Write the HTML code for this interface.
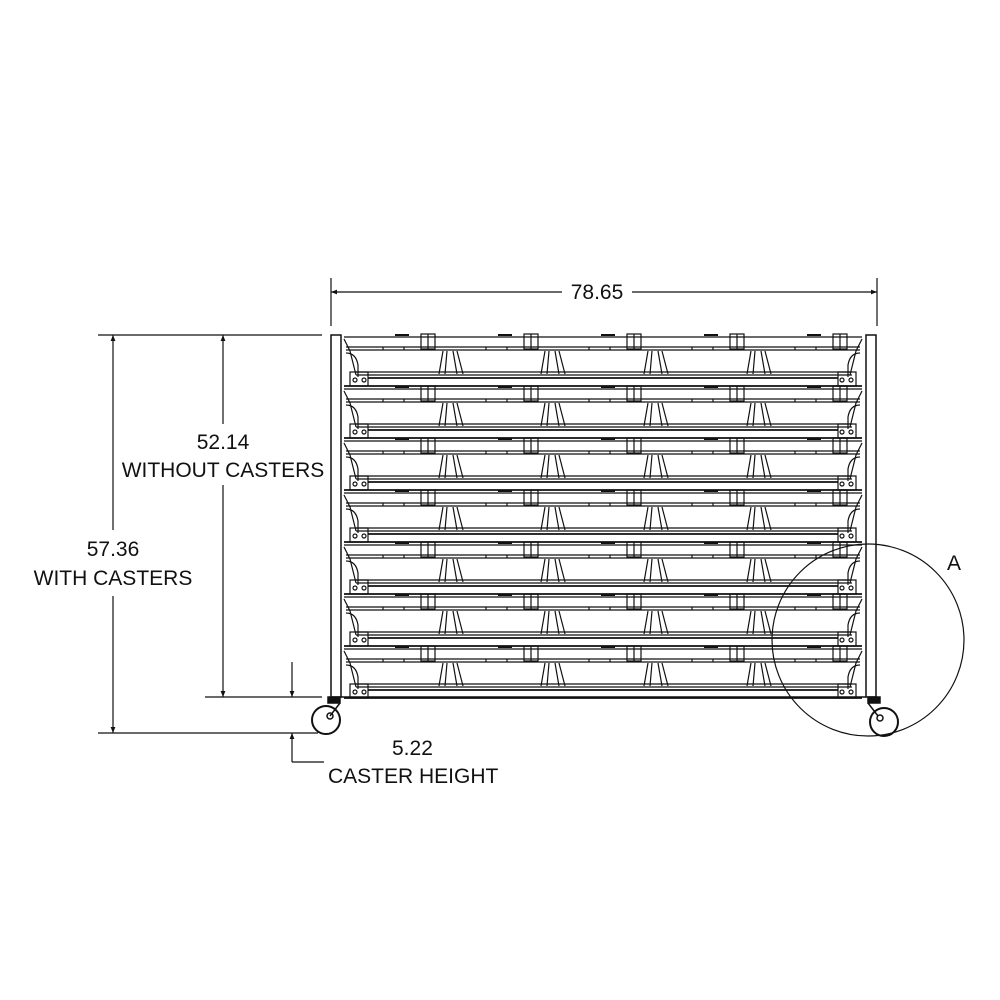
<!DOCTYPE html>
<html><head><meta charset="utf-8"><style>
html,body{margin:0;padding:0;background:#fff}
svg{display:block}
text{font-family:"Liberation Sans",sans-serif;font-size:21px;fill:#111}
</style></head><body>
<svg width="1000" height="1000" viewBox="0 0 1000 1000" xmlns="http://www.w3.org/2000/svg">
<defs>
<marker id="ar" viewBox="0 0 10 10" refX="10" refY="5" markerWidth="16" markerHeight="6" markerUnits="userSpaceOnUse" orient="auto-start-reverse">
<path d="M0,1 L10,5 L0,9 Z" fill="#111" stroke="none"/>
</marker>
<g id="shelf" fill="none" stroke="#111" stroke-width="1.2">
  <line x1="344" y1="0" x2="862" y2="0"/>
  <line x1="346" y1="10" x2="860" y2="10"/>
  <line x1="346" y1="13" x2="860" y2="13"/>
  <line x1="356" y1="35" x2="852" y2="35"/>
  <line x1="356" y1="38" x2="852" y2="38"/>
  <line x1="368" y1="41" x2="838" y2="41" stroke-width="1.8"/>
  <line x1="344" y1="49" x2="862" y2="49" stroke-width="1.8"/>
  <path d="M344,2 L350,14 L356,38"/>
  <path d="M862,2 L856,14 L850,38"/>
  <path d="M346,16 q10,0 12,12 v12"/>
  <path d="M860,16 q-10,0 -12,12 v12"/>
  <rect x="350" y="35" width="18" height="14"/>
  <rect x="838" y="35" width="18" height="14"/>
  <circle cx="355" cy="43" r="2"/><circle cx="364" cy="43" r="2"/>
  <circle cx="842" cy="43" r="2"/><circle cx="851" cy="43" r="2"/>
  <path d="M443,14 L439,37 M447,14 L445,37 M453,14 L457,37 M457,14 L463,37"/>
  <path d="M545,14 L541,37 M549,14 L547,37 M555,14 L559,37 M559,14 L565,37"/>
  <path d="M648,14 L644,37 M652,14 L650,37 M658,14 L662,37 M662,14 L668,37"/>
  <path d="M751,14 L747,37 M755,14 L753,37 M761,14 L765,37 M765,14 L771,37"/>
  <rect x="421" y="-3" width="14" height="15"/><line x1="428" y1="-3" x2="428" y2="12"/>
  <rect x="524" y="-3" width="14" height="15"/><line x1="531" y1="-3" x2="531" y2="12"/>
  <rect x="627" y="-3" width="14" height="15"/><line x1="634" y1="-3" x2="634" y2="12"/>
  <rect x="730" y="-3" width="14" height="15"/><line x1="737" y1="-3" x2="737" y2="12"/>
  <rect x="833" y="-3" width="14" height="15"/><line x1="840" y1="-3" x2="840" y2="12"/>
  <path d="M395,-2 h14 M498,-2 h14 M601,-2 h14 M704,-2 h14 M807,-2 h14" stroke-width="2"/>
  <path d="M383,10 v3 M404,10 v3 M486,10 v3 M507,10 v3 M589,10 v3 M610,10 v3 M692,10 v3 M713,10 v3 M795,10 v3 M816,10 v3"/>
</g>
</defs>

<g fill="none" stroke="#111" stroke-width="1.5">
<rect x="331" y="335" width="10" height="362"/>
<rect x="866" y="335" width="10" height="362"/>
<line x1="341" y1="697" x2="866" y2="697"/>
</g>
<use href="#shelf" y="337"/>
<use href="#shelf" y="389"/>
<use href="#shelf" y="441"/>
<use href="#shelf" y="493"/>
<use href="#shelf" y="545"/>
<use href="#shelf" y="597"/>
<use href="#shelf" y="649"/>

<g fill="none" stroke="#111" stroke-width="1.5">
<rect x="328" y="697" width="12" height="6" fill="#111"/>
<path d="M340,703 L330,716"/>
<circle cx="326" cy="720" r="14" stroke-width="2"/>
<circle cx="330" cy="716" r="3"/>
<rect x="868" y="697" width="12" height="6" fill="#111"/>
<path d="M868,703 L878,716"/>
<circle cx="884" cy="722" r="14" stroke-width="2"/>
<circle cx="880" cy="718" r="3"/>
</g>

<circle cx="868" cy="640" r="96" fill="none" stroke="#111" stroke-width="1.2"/>
<text x="947" y="570">A</text>

<g fill="none" stroke="#111" stroke-width="1.2">
<line x1="331" y1="278" x2="331" y2="326"/>
<line x1="877" y1="278" x2="877" y2="326"/>
<line x1="331" y1="292" x2="562" y2="292" marker-start="url(#ar)"/>
<line x1="632" y1="292" x2="877" y2="292" marker-end="url(#ar)"/>
<line x1="98" y1="335" x2="322" y2="335"/>
<line x1="205" y1="697" x2="322" y2="697"/>
<line x1="98" y1="733" x2="318" y2="733"/>
<line x1="223" y1="335" x2="223" y2="424" marker-start="url(#ar)"/>
<line x1="223" y1="485" x2="223" y2="697" marker-end="url(#ar)"/>
<line x1="113" y1="335" x2="113" y2="530" marker-start="url(#ar)"/>
<line x1="113" y1="596" x2="113" y2="733" marker-end="url(#ar)"/>
<line x1="292" y1="662" x2="292" y2="697" marker-end="url(#ar)"/>
<line x1="292" y1="762" x2="292" y2="733" marker-end="url(#ar)"/>
<line x1="292" y1="762" x2="324" y2="762"/>
</g>
<text x="597" y="299" text-anchor="middle">78.65</text>
<text x="223" y="449" text-anchor="middle">52.14</text>
<text x="223" y="477" text-anchor="middle">WITHOUT CASTERS</text>
<text x="113" y="556" text-anchor="middle">57.36</text>
<text x="113" y="585" text-anchor="middle">WITH CASTERS</text>
<text x="392" y="755">5.22</text>
<text x="328" y="783">CASTER HEIGHT</text>
</svg>
</body></html>
